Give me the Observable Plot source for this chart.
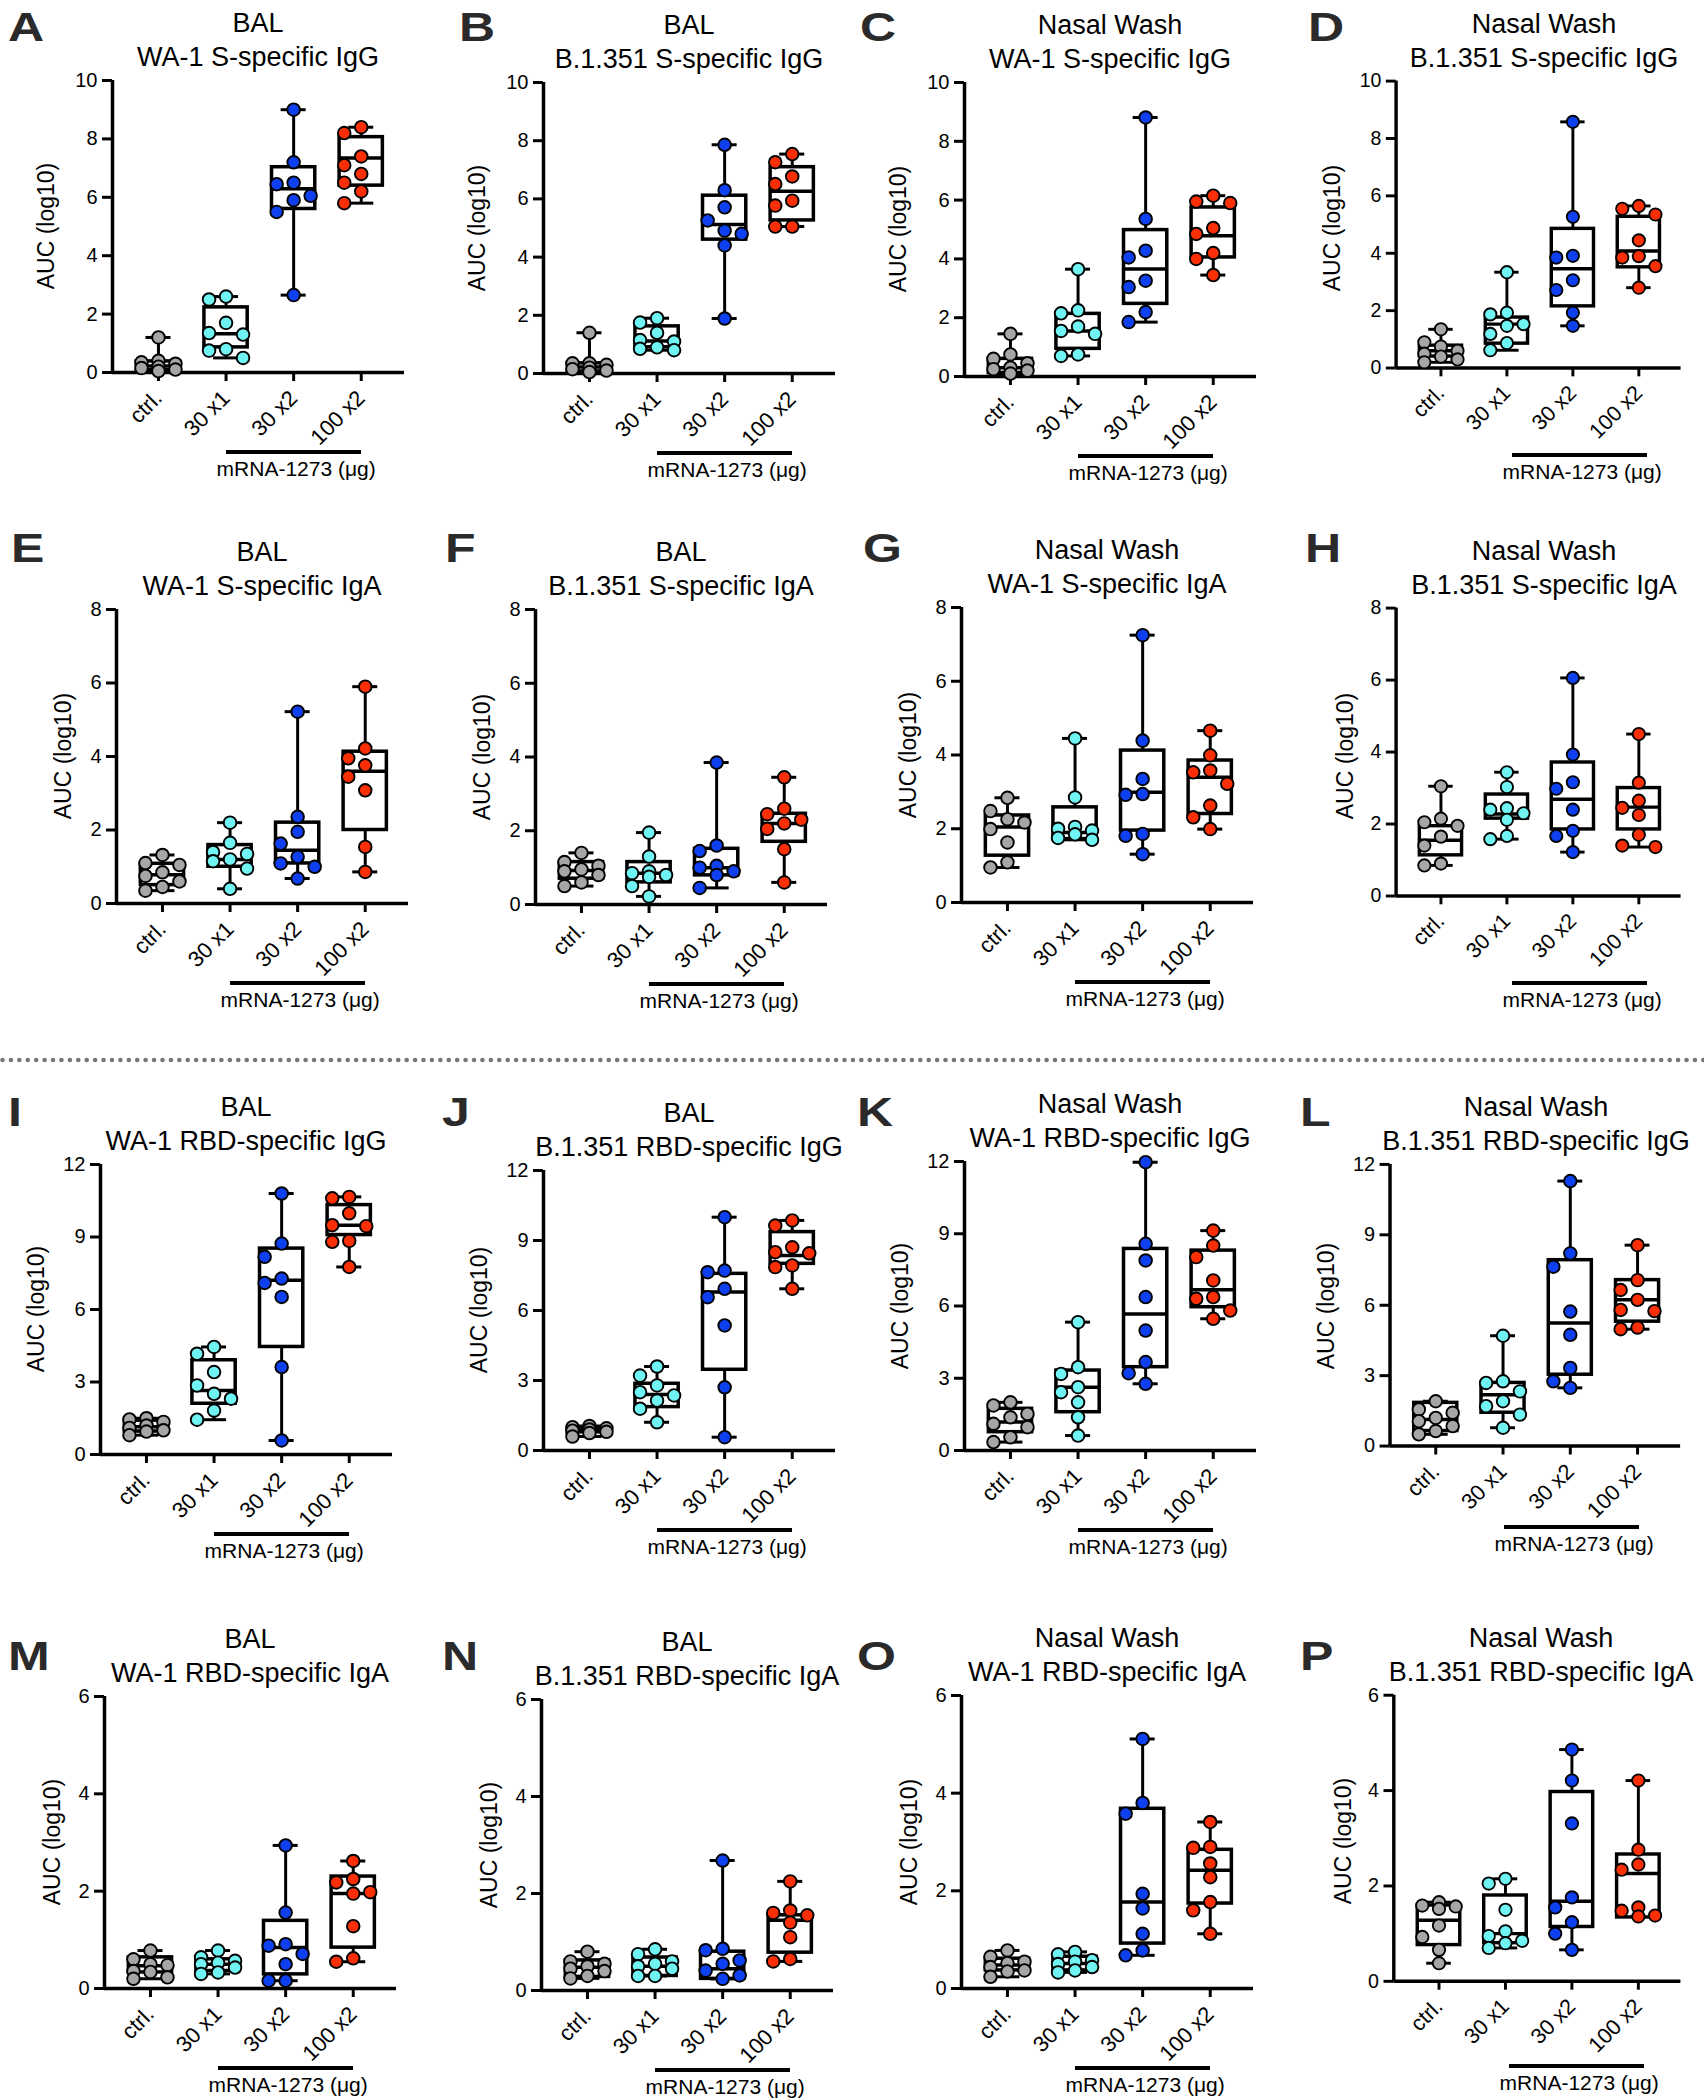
<!DOCTYPE html>
<html><head><meta charset="utf-8">
<script src="https://cdn.jsdelivr.net/npm/d3@7"></script>
<script src="https://cdn.jsdelivr.net/npm/@observablehq/plot@0.6"></script>
<style>
body{margin:0;background:#fff;font-family:"Liberation Sans",Arial,sans-serif;color:#000;}
#root{position:relative;width:1704px;height:2100px;overflow:hidden;}
.abs{position:absolute;white-space:nowrap;}
.title{font-size:27px;line-height:30px;text-align:center;width:440px;}
.letter{font-size:41px;font-weight:700;color:#2a2a2a;line-height:32px;transform:scaleX(1.22);transform-origin:left top;}
.ylab{font-size:23px;line-height:26px;transform:translate(-50%,-50%) rotate(-90deg);}
.xlab{font-size:21px;line-height:24px;transform:translate(-50%,-50%);}
svg text{font-family:"Liberation Sans",Arial,sans-serif;}
</style></head>
<body><div id="root"></div>
<script>
// ---- categories ----
const groups = ["ctrl.", "30 x1", "30 x2", "100 x2"];
const groupColors = ["#a6a6a6", "#6ff3f3", "#0f40ef", "#fb2f06"];
const letters = ["A","B","C","D","E","F","G","H","I","J","K","L","M","N","O","P"];
const sites = ["BAL","BAL","Nasal Wash","Nasal Wash","BAL","BAL","Nasal Wash","Nasal Wash","BAL","BAL","Nasal Wash","Nasal Wash","BAL","BAL","Nasal Wash","Nasal Wash"];
const antigens = ["WA-1 S-specific IgG","B.1.351 S-specific IgG","WA-1 S-specific IgG","B.1.351 S-specific IgG",
  "WA-1 S-specific IgA","B.1.351 S-specific IgA","WA-1 S-specific IgA","B.1.351 S-specific IgA",
  "WA-1 RBD-specific IgG","B.1.351 RBD-specific IgG","WA-1 RBD-specific IgG","B.1.351 RBD-specific IgG",
  "WA-1 RBD-specific IgA","B.1.351 RBD-specific IgA","WA-1 RBD-specific IgA","B.1.351 RBD-specific IgA"];
const yLabel = "AUC (log10)";
const xGroupLabel = "mRNA-1273 (\u03bcg)";
// y-axis tick values per row
const yTicksRow = [[0,2,4,6,8,10],[0,2,4,6,8],[0,3,6,9,12],[0,2,4,6]];

// ---- values: points (8 animals per group) and box [Q1, median, Q3] ----
const ptsA = [[1.2,0.4,0.35,0.3,0.2,0.15,0.1,0.05],[2.6,2.5,1.7,1.35,1.3,0.8,0.75,0.5],[9.0,7.2,6.5,6.45,6.05,5.9,5.5,2.65],[8.4,8.2,7.4,7.1,6.8,6.5,6.2,5.8]];
const boxA = [[0.08,0.22,0.38],[0.86,1.33,2.23],[5.6,6.29,7.03],[6.4,7.35,8.06]];
const ptsB = [[1.4,0.35,0.35,0.3,0.2,0.15,0.1,0.05],[1.9,1.75,1.4,1.15,1.1,0.9,0.85,0.8],[7.86,6.3,5.71,5.26,4.91,4.8,4.4,1.89],[7.54,7.26,6.77,6.51,5.94,5.77,5.05,5.05]];
const boxB = [[0.07,0.22,0.35],[0.9,1.12,1.62],[4.6,5.12,6.11],[5.26,6.26,7.09]];
const ptsC = [[1.45,0.75,0.6,0.45,0.3,0.25,0.2,0.1],[3.65,2.25,2.15,1.7,1.55,1.45,0.75,0.7],[8.81,5.36,4.28,4.05,3.26,3.04,2.19,1.85],[6.15,5.95,5.9,5.05,4.85,4.2,4.0,3.45]];
const boxC = [[0.12,0.3,0.6],[0.94,1.55,2.13],[2.47,3.66,4.98],[4.05,4.79,5.75]];
const ptsD = [[1.35,0.9,0.75,0.6,0.5,0.4,0.3,0.2],[3.34,1.93,1.87,1.53,1.47,1.19,0.87,0.62],[8.58,5.27,3.91,3.85,3.06,2.72,1.93,1.47],[5.65,5.55,5.35,4.45,3.9,3.85,3.55,2.8]];
const boxD = [[0.4,0.6,0.78],[0.85,1.53,1.76],[2.15,3.46,4.85],[3.51,4.08,5.27]];
const ptsE = [[1.32,1.1,1.05,0.85,0.75,0.6,0.45,0.35],[2.2,1.65,1.4,1.35,1.2,1.15,0.95,0.4],[5.22,2.36,1.95,1.63,1.27,1.09,1.0,0.68],[5.9,4.22,3.95,3.76,3.45,3.08,1.54,0.86]];
const boxE = [[0.5,0.78,1.08],[1.0,1.2,1.59],[1.09,1.45,2.2],[2.0,3.6,4.13]];
const ptsF = [[1.4,1.15,1.05,0.95,0.9,0.8,0.6,0.5],[1.95,1.3,0.9,0.85,0.8,0.75,0.5,0.22],[3.85,1.6,1.45,1.05,1.0,0.9,0.8,0.45],[3.45,2.6,2.45,2.3,2.2,2.05,1.5,0.6]];
const boxF = [[0.7,0.92,1.15],[0.6,0.85,1.15],[0.79,1.0,1.51],[1.7,2.2,2.46]];
const ptsG = [[2.84,2.48,2.26,2.17,1.99,1.63,1.09,0.95],[4.45,2.85,2.05,2.0,1.95,1.85,1.75,1.7],[7.25,4.39,3.35,2.94,2.92,1.86,1.81,1.31],[4.66,3.99,3.58,3.53,3.22,2.63,2.31,1.99]];
const boxG = [[1.27,2.05,2.36],[1.72,1.9,2.58],[1.95,2.99,4.12],[2.4,3.4,3.85]];
const ptsH = [[3.05,2.15,2.05,1.95,1.65,1.4,0.9,0.85],[3.44,3.03,2.44,2.4,2.3,2.12,1.67,1.58],[6.06,3.93,3.16,2.98,2.4,1.81,1.67,1.22],[4.5,3.15,2.65,2.45,2.25,1.7,1.4,1.36]];
const boxH = [[1.13,1.55,1.94],[2.15,2.28,2.82],[1.85,2.69,3.71],[1.85,2.47,3.0]];
const ptsI = [[1.5,1.45,1.35,1.2,1.1,1.0,0.95,0.8],[4.45,4.17,3.41,2.86,2.51,2.31,1.82,1.44],[10.8,8.73,8.18,7.28,7.1,6.52,3.62,0.58],[10.66,10.6,9.98,9.49,9.45,8.84,8.8,7.76]];
const boxI = [[0.95,1.15,1.4],[2.1,2.65,3.9],[4.45,7.21,8.52],[9.08,9.49,10.32]];
const ptsJ = [[1.05,1.0,0.95,0.9,0.85,0.8,0.75,0.6],[3.6,3.21,2.79,2.5,2.36,2.14,1.79,1.21],[10.0,7.71,7.64,6.93,6.57,5.36,2.71,0.57],[9.86,9.64,8.71,8.5,8.45,7.93,7.86,6.93]];
const boxJ = [[0.78,0.88,0.98],[1.86,2.4,2.86],[3.46,6.79,7.57],[8.0,8.36,9.36]];
const ptsK = [[2.0,1.87,1.52,1.38,1.11,0.97,0.55,0.35],[5.33,3.46,3.18,2.63,2.42,2.0,1.38,0.62],[11.97,8.58,7.89,6.37,4.98,3.67,3.21,2.77],[9.13,8.51,8.03,7.06,6.37,6.3,5.81,5.47]];
const boxK = [[0.76,1.18,1.73],[1.59,2.63,3.32],[3.46,5.67,8.37],[5.95,6.67,8.3]];
const ptsL = [[1.91,1.56,1.42,1.2,1.06,0.85,0.64,0.5],[4.7,2.76,2.69,2.33,1.91,1.7,1.34,0.78],[11.29,8.21,7.64,5.73,4.74,3.33,2.76,2.48],[8.56,7.07,6.65,6.23,5.8,5.75,5.05,4.98]];
const boxL = [[0.64,1.13,1.84],[1.42,2.19,2.69],[3.04,5.24,7.92],[5.3,6.23,7.07]];
const ptsM = [[0.78,0.6,0.5,0.48,0.36,0.34,0.23,0.2],[0.78,0.64,0.57,0.53,0.5,0.43,0.33,0.3],[2.94,1.56,0.91,0.88,0.71,0.5,0.16,0.16],[2.62,2.25,2.18,1.98,1.95,1.28,0.62,0.55]];
const boxM = [[0.33,0.47,0.64],[0.36,0.5,0.6],[0.29,0.84,1.39],[0.84,1.95,2.3]];
const ptsN = [[0.8,0.6,0.55,0.5,0.45,0.4,0.3,0.25],[0.85,0.75,0.6,0.55,0.5,0.45,0.3,0.3],[2.68,0.86,0.83,0.62,0.55,0.41,0.31,0.24],[2.25,1.65,1.6,1.55,1.4,1.1,0.65,0.6]];
const boxN = [[0.28,0.48,0.62],[0.3,0.5,0.68],[0.24,0.45,0.8],[0.78,1.45,1.55]];
const ptsO = [[0.78,0.65,0.55,0.52,0.44,0.37,0.35,0.24],[0.75,0.7,0.58,0.55,0.5,0.44,0.37,0.33],[5.11,3.8,3.58,1.94,1.64,1.12,0.78,0.68],[3.41,2.9,2.88,2.56,2.28,1.77,1.6,1.12]];
const boxO = [[0.37,0.48,0.61],[0.37,0.51,0.65],[0.92,1.77,3.68],[1.74,2.42,2.84]];
const ptsP = [[1.66,1.59,1.57,1.52,1.17,0.93,0.66,0.38],[2.15,2.05,1.5,1.05,0.95,0.85,0.8,0.7],[4.86,4.21,3.31,1.76,1.55,1.24,1.0,0.66],[4.21,2.76,2.45,2.34,1.55,1.48,1.38,1.36]];
const boxP = [[0.76,1.28,1.59],[0.8,1.0,1.8],[1.14,1.68,3.97],[1.34,2.26,2.66]];

const allPts = [ptsA,ptsB,ptsC,ptsD,ptsE,ptsF,ptsG,ptsH,ptsI,ptsJ,ptsK,ptsL,ptsM,ptsN,ptsO,ptsP];
const allBox = [boxA,boxB,boxC,boxD,boxE,boxF,boxG,boxH,boxI,boxJ,boxK,boxL,boxM,boxN,boxO,boxP];

// ---- layout (pixels) ----
const axisXpos = [112,543,964,1398, 116,535,961,1398, 100,543,964,1390, 104,541,961,1395];
const plotTop  = [80,82,82,81, 609,609,607,608, 1164,1170,1161,1164, 1696,1699,1695,1695];
const plotBot  = [372,373,376,375, 903,904,902,903, 1454,1450,1450,1447, 1988,1990,1988,1986];
const letterX  = [8,459,860,1308, 11,445,863,1305, 8,442,857,1300, 8,442,857,1300];
const letterTopRow = [11,532,1096,1640];
const yLabOffsetRow = [66,53,64,52];
const PLOTW = 292, ML = 100, MR = 24, MT = 16, MB = 120;
const xDom = [-0.68, 3.64];
const FONT = '"Liberation Sans", Arial, sans-serif';

const root = document.getElementById("root");
function addDiv(cls, text, left, top, extra) {
  const d = document.createElement("div");
  d.className = "abs " + cls;
  d.textContent = text;
  d.style.left = left + "px"; d.style.top = top + "px";
  if (extra) Object.assign(d.style, extra);
  root.appendChild(d);
  return d;
}

function dodge(vals, g, pxY) {
  const sorted = vals.map(v => ({v})).sort((a, b) => b.v - a.v);
  const placed = [];
  const cands = [0, -17, 17];
  for (const p of sorted) {
    let best = 0, bestD = -1;
    for (const c of cands) {
      let dmin = Infinity;
      for (const q of placed) dmin = Math.min(dmin, Math.hypot(c - q.ox, (p.v - q.v) * pxY));
      if (dmin >= 13.5) { best = c; bestD = dmin; break; }
      if (dmin > bestD) { bestD = dmin; best = c; }
    }
    p.ox = best; placed.push(p);
  }
  return placed.map(p => ({g, v: p.v, off: p.ox}));
}

for (let p = 0; p < 16; p++) {
  const row = Math.floor(p / 4);
  const ticks = yTicksRow[row];
  const yMax = ticks[ticks.length - 1];
  const top = plotTop[p], bot = plotBot[p], ax = axisXpos[p];
  const plotH = bot - top;
  const pxY = plotH / yMax;
  const pxX = PLOTW / (xDom[1] - xDom[0]);

  const stats = allBox[p].map((b, g) => ({
    g, q1: b[0], med: b[1], q3: b[2],
    min: d3.min(allPts[p][g]), max: d3.max(allPts[p][g])
  }));
  const caps = stats.flatMap(s => [{g: s.g, y: s.min}, {g: s.g, y: s.max}]);
  const dots = allPts[p].flatMap((vals, g) => dodge(vals, g, pxY));

  const plot = Plot.plot({
    width: ML + PLOTW + MR, height: MT + plotH + MB,
    marginLeft: ML, marginRight: MR, marginTop: MT, marginBottom: MB,
    x: {domain: xDom},
    y: {domain: [0, yMax]},
    color: {type: "identity"},
    style: {fontFamily: FONT, fontSize: "20px", color: "#000", background: "transparent", overflow: "visible"},
    marks: [
      Plot.axisY({ticks, tickFormat: () => "", tickSize: 10, tickPadding: 4, strokeWidth: 3, label: null}),
      Plot.text(ticks, {x: xDom[0], y: d => d, text: d => String(d), textAnchor: "end", dx: -15, fontSize: 20, fill: "black"}),
      Plot.axisX({ticks: [0,1,2,3], tickFormat: i => groups[i], tickRotate: -45, tickSize: 9, tickPadding: 13, strokeWidth: 3, label: null}),
      Plot.ruleX([xDom[0]], {y1: 0, y2: yMax, strokeWidth: 3.5}),
      Plot.ruleY([0], {x1: xDom[0], x2: xDom[1], strokeWidth: 3.5}),
      Plot.ruleX(stats, {x: "g", y1: "min", y2: "max", strokeWidth: 3}),
      Plot.ruleY(caps, {x1: d => d.g - 0.185, x2: d => d.g + 0.185, y: "y", strokeWidth: 3}),
      Plot.rect(stats, {x1: d => d.g - 0.32, x2: d => d.g + 0.32, y1: "q1", y2: "q3", fill: "white", stroke: "black", strokeWidth: 3.5}),
      Plot.ruleY(stats, {x1: d => d.g - 0.32, x2: d => d.g + 0.32, y: "med", strokeWidth: 3.5}),
      Plot.dot(dots, {x: d => d.g + d.off / pxX, y: "v", r: 6.3, fill: d => groupColors[d.g], stroke: "black", strokeWidth: 1.9})
    ]
  });
  // rotated x tick labels size
  plot.querySelectorAll("text").forEach(t => {
    const tr = (t.getAttribute("transform") || "") + " " + ((t.parentNode && t.parentNode.getAttribute && t.parentNode.getAttribute("transform")) || "");
    if (tr.includes("rotate")) t.style.setProperty("font-size", "22px", "important");
    else t.style.setProperty("font-size", "20px", "important");
    t.style.fontFamily = FONT;
  });
  const svgLeft = ax - ML, svgTop = top - MT;
  const wrap = document.createElement("div");
  wrap.className = "abs";
  wrap.style.left = svgLeft + "px"; wrap.style.top = svgTop + "px";
  wrap.appendChild(plot);
  root.appendChild(wrap);

  // titles
  const cx = ax + PLOTW / 2;
  addDiv("title", sites[p], cx - 220, top - 57 - 15);
  addDiv("title", antigens[p], cx - 220, top - 23 - 15);
  // panel letter
  addDiv("letter", letters[p], letterX[p], letterTopRow[row]);
  // y label
  addDiv("ylab", yLabel, ax - yLabOffsetRow[row], (top + bot) / 2);
  // bracket + group label
  const xs = plot.scale("x");
  const bx1 = svgLeft + xs.apply(1), bx2 = svgLeft + xs.apply(3);
  const br = document.createElement("div");
  br.className = "abs";
  Object.assign(br.style, {left: bx1 + "px", top: (bot + 78) + "px", width: (bx2 - bx1) + "px", height: "3.5px", background: "#000"});
  root.appendChild(br);
  addDiv("xlab", xGroupLabel, (bx1 + bx2) / 2 + 3, bot + 97);
}

// dotted separator
const sep = document.createElementNS("http://www.w3.org/2000/svg", "svg");
sep.setAttribute("width", 1704); sep.setAttribute("height", 10);
sep.setAttribute("style", "position:absolute;left:0;top:1055px");
sep.innerHTML = '<line x1="2.5" y1="5" x2="1704" y2="5" stroke="#777" stroke-width="4.6" stroke-linecap="round" stroke-dasharray="0 8.42"/>';
root.appendChild(sep);
</script>
</body></html>
